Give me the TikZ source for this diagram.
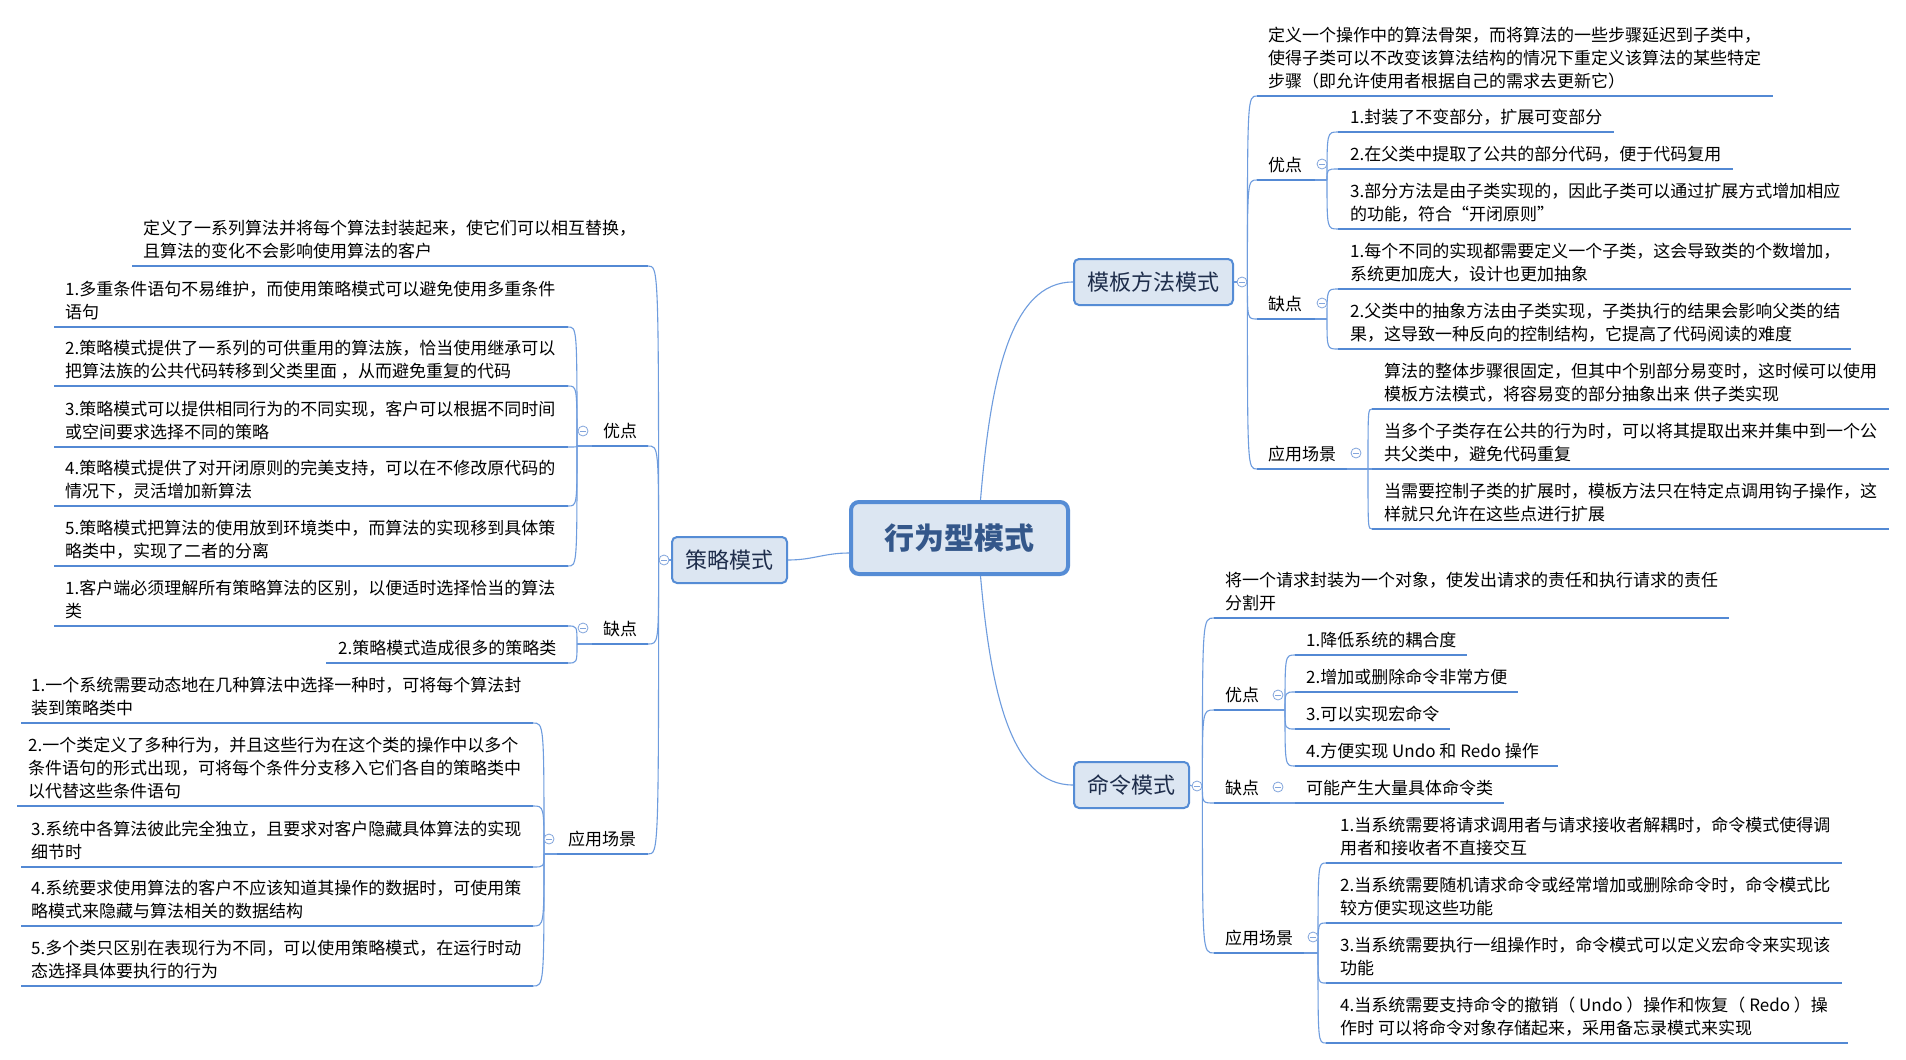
\documentclass[tikz,border=0pt]{standalone}
\usepackage{fontspec}
\setmainfont{Noto Sans CJK SC}
\usetikzlibrary{calc}
\definecolor{ulblue}{RGB}{83,137,212}
\definecolor{lnblue}{RGB}{110,156,222}
\definecolor{foldblue}{RGB}{130,165,220}
\definecolor{boxfill}{RGB}{220,230,242}
\definecolor{boxline}{RGB}{85,140,213}
\definecolor{boxtext}{RGB}{30,45,75}
\definecolor{centext}{RGB}{52,87,138}
\newcommand\brc[2]{\draw[ln] (#1) .. controls (#1 |- #2) .. (#2);}
\begin{document}
\begin{tikzpicture}[x=1pt,y=-1pt,
  ul/.style={draw=ulblue, line width=2.8pt},
  ln/.style={draw=lnblue, line width=1.1pt},
  lab/.style={anchor=south west, inner sep=0pt, yshift=-2pt, align=left, font=\fontsize{17}{23}\selectfont, execute at end node=\strut},
  topic/.style={draw=boxline, line width=2pt, fill=boxfill, rounded corners=5pt, inner sep=0pt, text=boxtext, font=\fontsize{22}{26}\selectfont},
  fold/.style={circle, draw=foldblue, fill=white, line width=0.8pt, minimum size=10pt, inner sep=0pt,
    path picture={\draw[foldblue, line width=0.8pt] ([xshift=-2.6pt]path picture bounding box.center) -- ([xshift=2.6pt]path picture bounding box.center);}}
]
\useasboundingbox[fill=white] (0,0) rectangle (1906,1060);

% ---------- main topics ----------
\node[topic, minimum width=217pt, minimum height=72pt, line width=4pt, rounded corners=8pt, text=centext, font=\fontsize{30}{34}\selectfont\bfseries] (cen) at (959.5,538) {行为型模式};
\node[topic, minimum width=159pt, minimum height=46pt] (tm) at (1153.5,282) {模板方法模式};
\node[topic, minimum width=115pt, minimum height=46pt] (cm) at (1131.5,785) {命令模式};
\node[topic, minimum width=115pt, minimum height=46pt] (st) at (729.5,560) {策略模式};

\draw[ln] ([yshift=-15pt]cen.west) .. controls +(-25,0) and +(25,0) .. (st.east);
\draw[ln] ([xshift=21pt]cen.north) .. controls ([xshift=31pt,yshift=120pt]cen.north) and ([xshift=-63pt]tm.west) .. (tm.west);
\draw[ln] ([xshift=21pt]cen.south) .. controls ([xshift=31pt,yshift=-113pt]cen.south) and ([xshift=-63pt]cm.west) .. (cm.west);

\node[fold] (tmf) at (1242,282) {};
\node[fold] (cmf) at (1197,786) {};
\node[fold] (stf) at (664,560) {};
\draw[ln] (tm.east) -- (tmf.west);
\draw[ln] (cm.east) -- (cmf.west);
\draw[ln] (st.west) -- (stf.east);

% ================= Template method =================
\coordinate (tdA) at (1257,96);  \coordinate (tdB) at (1773,96);
\coordinate (tyA) at (1257,180); \coordinate (tyB) at (1315,180); \coordinate (tyF) at (1327,180);
\coordinate (ty1A) at (1338,132); \coordinate (ty1B) at (1614,132);
\coordinate (ty2A) at (1338,169); \coordinate (ty2B) at (1733,169);
\coordinate (ty3A) at (1338,229); \coordinate (ty3B) at (1851,229);
\coordinate (tqA) at (1257,319); \coordinate (tqB) at (1315,319); \coordinate (tqF) at (1327,319);
\coordinate (tq1A) at (1338,289); \coordinate (tq1B) at (1851,289);
\coordinate (tq2A) at (1338,349); \coordinate (tq2B) at (1851,349);
\coordinate (taA) at (1257,469); \coordinate (taB) at (1347,469); \coordinate (taF) at (1368,469);
\coordinate (ta1A) at (1372,409); \coordinate (ta1B) at (1889,409);
\coordinate (ta2A) at (1372,469); \coordinate (ta2B) at (1889,469);
\coordinate (ta3A) at (1372,529); \coordinate (ta3B) at (1889,529);

\brc{tmf.east}{tdA} \brc{tmf.east}{tyA} \brc{tmf.east}{tqA} \brc{tmf.east}{taA}
\draw[ln] (tyB) -- (tyF); \draw[ln] (tqB) -- (tqF); \draw[ln] (taB) -- (taF);
\brc{tyF}{ty1A} \brc{tyF}{ty2A} \brc{tyF}{ty3A}
\brc{tqF}{tq1A} \brc{tqF}{tq2A}
\brc{taF}{ta1A} \brc{taF}{ta2A} \brc{taF}{ta3A}
\foreach \a/\b in {tdA/tdB,tyA/tyB,ty1A/ty1B,ty2A/ty2B,ty3A/ty3B,tqA/tqB,tq1A/tq1B,tq2A/tq2B,taA/taB,ta1A/ta1B,ta2A/ta2B,ta3A/ta3B}
  \draw[ul] (\a) -- (\b);

\node[lab] (tdT) at (1268,93) {定义一个操作中的算法骨架，而将算法的一些步骤延迟到子类中，\\使得子类可以不改变该算法结构的情况下重定义该算法的某些特定\\步骤（即允许使用者根据自己的需求去更新它）};
\node[lab] (tyT) at (1268,177) {优点};
\node[fold] (tyC) at (1322,164) {};
\node[lab] (ty1T) at (1350,129) {1.封装了不变部分，扩展可变部分};
\node[lab] (ty2T) at (1350,166) {2.在父类中提取了公共的部分代码，便于代码复用};
\node[lab] (ty3T) at (1350,226) {3.部分方法是由子类实现的，因此子类可以通过扩展方式增加相应\\的功能，符合“开闭原则”};
\node[lab] (tqT) at (1268,316) {缺点};
\node[fold] (tqC) at (1322,303) {};
\node[lab] (tq1T) at (1350,286) {1.每个不同的实现都需要定义一个子类，这会导致类的个数增加，\\系统更加庞大，设计也更加抽象};
\node[lab] (tq2T) at (1350,346) {2.父类中的抽象方法由子类实现，子类执行的结果会影响父类的结\\果，这导致一种反向的控制结构，它提高了代码阅读的难度};
\node[lab] (taT) at (1268,466) {应用场景};
\node[fold] (taC) at (1356,453) {};
\node[lab] (ta1T) at (1384,406) {算法的整体步骤很固定，但其中个别部分易变时，这时候可以使用\\模板方法模式，将容易变的部分抽象出来 供子类实现};
\node[lab] (ta2T) at (1384,466) {当多个子类存在公共的行为时，可以将其提取出来并集中到一个公\\共父类中，避免代码重复};
\node[lab] (ta3T) at (1384,526) {当需要控制子类的扩展时，模板方法只在特定点调用钩子操作，这\\样就只允许在这些点进行扩展};

% ================= Command =================
\coordinate (cdA) at (1214,618); \coordinate (cdB) at (1729,618);
\coordinate (cyA) at (1214,710); \coordinate (cyB) at (1270,710); \coordinate (cyF) at (1285,710);
\coordinate (cy1A) at (1295,655); \coordinate (cy1B) at (1467,655);
\coordinate (cy2A) at (1295,692); \coordinate (cy2B) at (1518,692);
\coordinate (cy3A) at (1295,729); \coordinate (cy3B) at (1450,729);
\coordinate (cy4A) at (1295,766); \coordinate (cy4B) at (1558,766);
\coordinate (cqA) at (1214,803); \coordinate (cqB) at (1270,803);
\coordinate (cq1A) at (1295,803); \coordinate (cq1B) at (1504,803);
\coordinate (caA) at (1214,953); \coordinate (caB) at (1304,953); \coordinate (caF) at (1318,953);
\coordinate (ca1A) at (1326,863); \coordinate (ca1B) at (1842,863);
\coordinate (ca2A) at (1326,923); \coordinate (ca2B) at (1842,923);
\coordinate (ca3A) at (1326,983); \coordinate (ca3B) at (1842,983);
\coordinate (ca4A) at (1326,1043); \coordinate (ca4B) at (1848,1043);

\brc{cmf.east}{cdA} \brc{cmf.east}{cyA} \brc{cmf.east}{cqA} \brc{cmf.east}{caA}
\draw[ln] (cyB) -- (cyF); \draw[ln] (cqB) -- (cq1A); \draw[ln] (caB) -- (caF);
\brc{cyF}{cy1A} \brc{cyF}{cy2A} \brc{cyF}{cy3A} \brc{cyF}{cy4A}
\brc{caF}{ca1A} \brc{caF}{ca2A} \brc{caF}{ca3A} \brc{caF}{ca4A}
\foreach \a/\b in {cdA/cdB,cyA/cyB,cy1A/cy1B,cy2A/cy2B,cy3A/cy3B,cy4A/cy4B,cqA/cqB,cq1A/cq1B,caA/caB,ca1A/ca1B,ca2A/ca2B,ca3A/ca3B,ca4A/ca4B}
  \draw[ul] (\a) -- (\b);

\node[lab] (cdT) at (1225,615) {将一个请求封装为一个对象，使发出请求的责任和执行请求的责任\\分割开};
\node[lab] (cyT) at (1225,707) {优点};
\node[fold] (cyC) at (1278,695) {};
\node[lab] (cy1T) at (1306,652) {1.降低系统的耦合度};
\node[lab] (cy2T) at (1306,689) {2.增加或删除命令非常方便};
\node[lab] (cy3T) at (1306,726) {3.可以实现宏命令};
\node[lab] (cy4T) at (1306,763) {4.方便实现 Undo 和 Redo 操作};
\node[lab] (cqT) at (1225,800) {缺点};
\node[fold] (cqC) at (1278,787) {};
\node[lab] (cq1T) at (1306,800) {可能产生大量具体命令类};
\node[lab] (caT) at (1225,950) {应用场景};
\node[fold] (caC) at (1313,937) {};
\node[lab] (ca1T) at (1340,860) {1.当系统需要将请求调用者与请求接收者解耦时，命令模式使得调\\用者和接收者不直接交互};
\node[lab] (ca2T) at (1340,920) {2.当系统需要随机请求命令或经常增加或删除命令时，命令模式比\\较方便实现这些功能};
\node[lab] (ca3T) at (1340,980) {3.当系统需要执行一组操作时，命令模式可以定义宏命令来实现该\\功能};
\node[lab] (ca4T) at (1340,1040) {4.当系统需要支持命令的撤销（ Undo ）操作和恢复（ Redo ）操\\作时 可以将命令对象存储起来，采用备忘录模式来实现};

% ================= Strategy =================
\coordinate (sdA) at (132,266); \coordinate (sdB) at (648,266);
\coordinate (syA) at (592,446); \coordinate (syB) at (648,446); \coordinate (syF) at (577,446);
\coordinate (sy1A) at (54,327); \coordinate (sy1B) at (568,327);
\coordinate (sy2A) at (54,386); \coordinate (sy2B) at (568,386);
\coordinate (sy3A) at (54,447); \coordinate (sy3B) at (568,447);
\coordinate (sy4A) at (54,506); \coordinate (sy4B) at (568,506);
\coordinate (sy5A) at (54,566); \coordinate (sy5B) at (568,566);
\coordinate (sqA) at (592,644); \coordinate (sqB) at (648,644); \coordinate (sqF) at (577,644);
\coordinate (sq1A) at (54,626); \coordinate (sq1B) at (568,626);
\coordinate (sq2A) at (326,663); \coordinate (sq2B) at (568,663);
\coordinate (saA) at (557,854); \coordinate (saB) at (648,854); \coordinate (saF) at (544,854);
\coordinate (sa1A) at (21,723); \coordinate (sa1B) at (533,723);
\coordinate (sa2A) at (17,806); \coordinate (sa2B) at (533,806);
\coordinate (sa3A) at (21,867); \coordinate (sa3B) at (533,867);
\coordinate (sa4A) at (21,926); \coordinate (sa4B) at (533,926);
\coordinate (sa5A) at (21,986); \coordinate (sa5B) at (533,986);

\brc{stf.west}{sdB} \brc{stf.west}{syB} \brc{stf.west}{sqB} \brc{stf.west}{saB}
\draw[ln] (syA) -- (syF); \draw[ln] (sqA) -- (sqF); \draw[ln] (saA) -- (saF);
\brc{syF}{sy1B} \brc{syF}{sy2B} \brc{syF}{sy3B} \brc{syF}{sy4B} \brc{syF}{sy5B}
\brc{sqF}{sq1B} \brc{sqF}{sq2B}
\brc{saF}{sa1B} \brc{saF}{sa2B} \brc{saF}{sa3B} \brc{saF}{sa4B} \brc{saF}{sa5B}
\foreach \a/\b in {sdA/sdB,syA/syB,sy1A/sy1B,sy2A/sy2B,sy3A/sy3B,sy4A/sy4B,sy5A/sy5B,sqA/sqB,sq1A/sq1B,sq2A/sq2B,saA/saB,sa1A/sa1B,sa2A/sa2B,sa3A/sa3B,sa4A/sa4B,sa5A/sa5B}
  \draw[ul] (\a) -- (\b);

\node[lab] (sdT) at (143,263) {定义了一系列算法并将每个算法封装起来，使它们可以相互替换，\\且算法的变化不会影响使用算法的客户};
\node[lab] (syT) at (603,443) {优点};
\node[fold] (syC) at (583,431) {};
\node[lab] (sy1T) at (65,324) {1.多重条件语句不易维护，而使用策略模式可以避免使用多重条件\\语句};
\node[lab] (sy2T) at (65,383) {2.策略模式提供了一系列的可供重用的算法族，恰当使用继承可以\\把算法族的公共代码转移到父类里面 ，从而避免重复的代码};
\node[lab] (sy3T) at (65,444) {3.策略模式可以提供相同行为的不同实现，客户可以根据不同时间\\或空间要求选择不同的策略};
\node[lab] (sy4T) at (65,503) {4.策略模式提供了对开闭原则的完美支持，可以在不修改原代码的\\情况下，灵活增加新算法};
\node[lab] (sy5T) at (65,563) {5.策略模式把算法的使用放到环境类中，而算法的实现移到具体策\\略类中，实现了二者的分离};
\node[lab] (sqT) at (603,641) {缺点};
\node[fold] (sqC) at (583,628) {};
\node[lab] (sq1T) at (65,623) {1.客户端必须理解所有策略算法的区别，以便适时选择恰当的算法\\类};
\node[lab] (sq2T) at (338,660) {2.策略模式造成很多的策略类};
\node[lab] (saT) at (568,851) {应用场景};
\node[fold] (saC) at (549,839) {};
\node[lab] (sa1T) at (31,720) {1.一个系统需要动态地在几种算法中选择一种时，可将每个算法封\\装到策略类中};
\node[lab] (sa2T) at (28,803) {2.一个类定义了多种行为，并且这些行为在这个类的操作中以多个\\条件语句的形式出现，可将每个条件分支移入它们各自的策略类中\\以代替这些条件语句};
\node[lab] (sa3T) at (31,864) {3.系统中各算法彼此完全独立，且要求对客户隐藏具体算法的实现\\细节时};
\node[lab] (sa4T) at (31,923) {4.系统要求使用算法的客户不应该知道其操作的数据时，可使用策\\略模式来隐藏与算法相关的数据结构};
\node[lab] (sa5T) at (31,983) {5.多个类只区别在表现行为不同，可以使用策略模式，在运行时动\\态选择具体要执行的行为};
\end{tikzpicture}
\end{document}
